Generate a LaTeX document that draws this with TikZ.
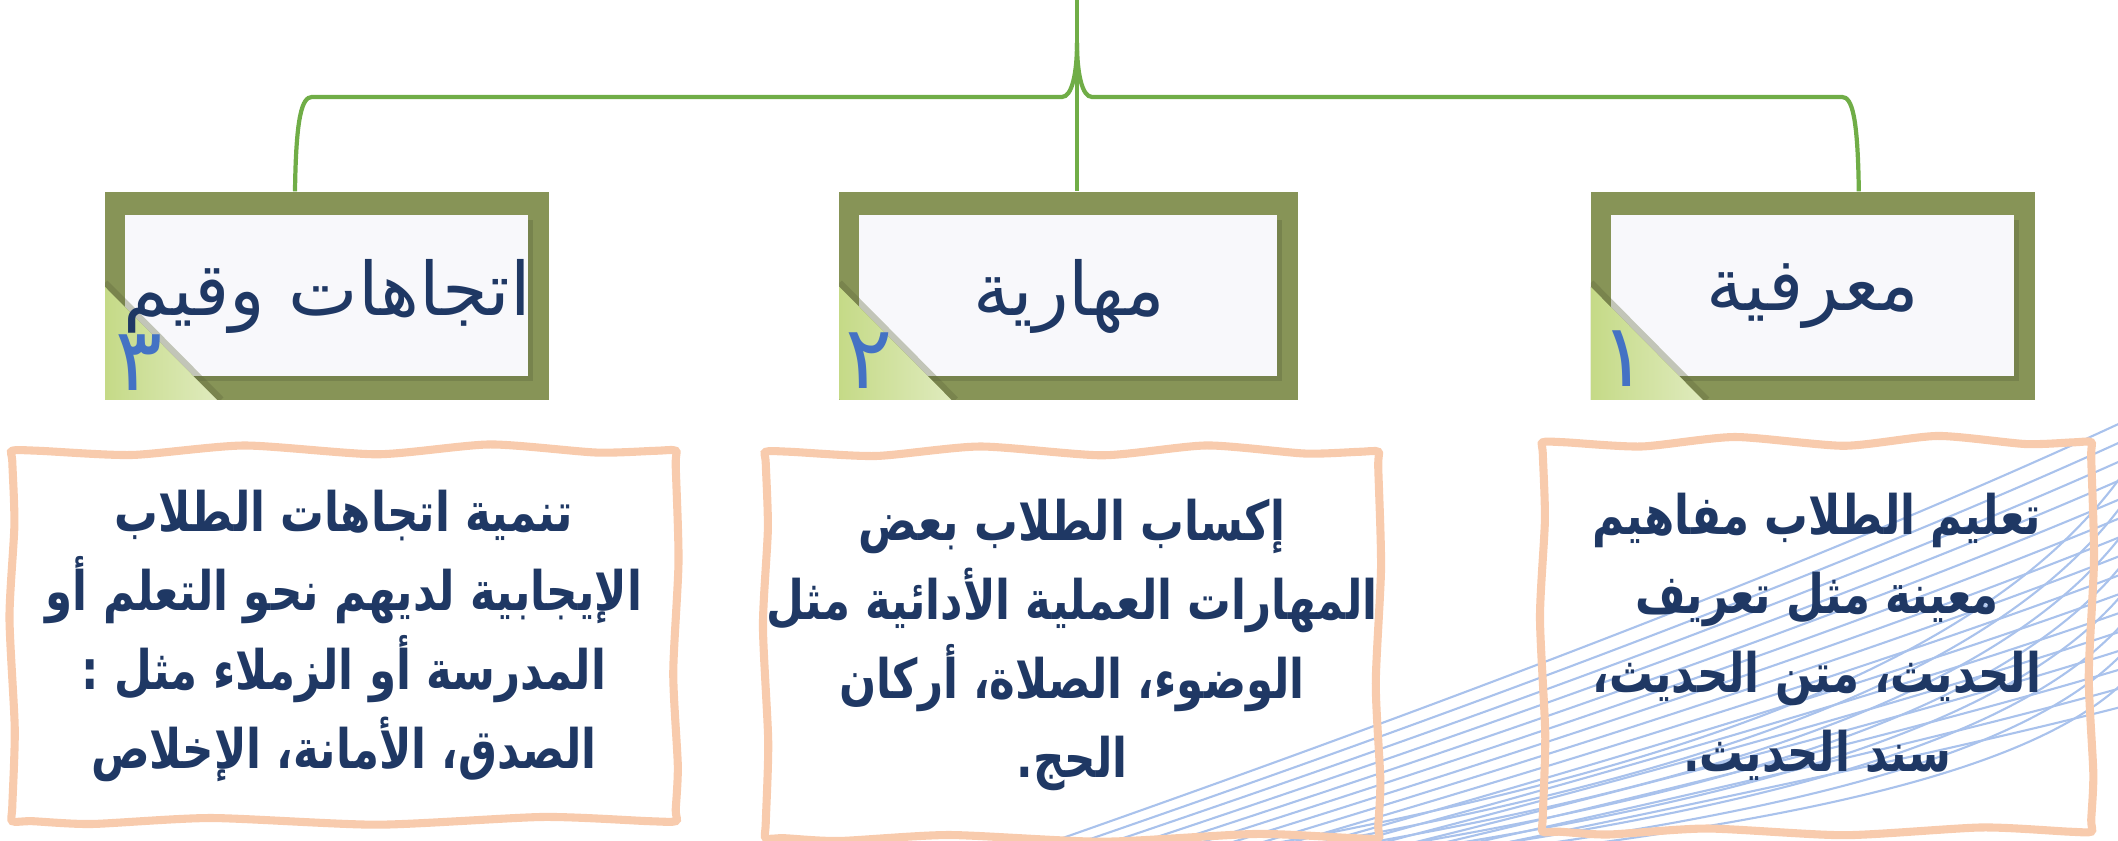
\documentclass[tikz,border=0pt]{standalone}
\usepackage{fontspec}
\usepackage{xcolor}
\usetikzlibrary{positioning}
\usetikzlibrary{calc}
\TeXXeTstate=1
\newfontfamily\arabicfont[Script=Arabic]{DejaVu Sans}
\newfontfamily\descfont[Script=Arabic, FakeStretch=0.8]{DejaVu Sans}
\definecolor{boxolive}{HTML}{879457}
\definecolor{innerwhite}{HTML}{F8F8FB}
\definecolor{leaf}{HTML}{C5DA87}
\definecolor{linkgreen}{HTML}{70AD47}
\definecolor{navy}{HTML}{1F3864}
\definecolor{numblue}{HTML}{4472C4}
\definecolor{peach}{HTML}{F8CBAD}
\definecolor{waveblue}{HTML}{A9C2EC}
\tikzset{branch/.style = {draw=linkgreen, line width=1.2pt}}

\begin{document}
\begin{tikzpicture}[node distance=2.9cm,
    head node/.style={minimum width=4.44cm, minimum height=2.08cm, inner sep=0pt, fill=boxolive, text=navy,
      font=\arabicfont\fontsize{21}{24}\selectfont,
      path picture={
        \fill[boxolive!75!black, opacity=.45] ([xshift=2.6mm,yshift=1.9mm]path picture bounding box.south west) rectangle ([xshift=-1.6mm,yshift=-2.8mm]path picture bounding box.north east);
        \fill[innerwhite] ([xshift=2mm,yshift=2.4mm]path picture bounding box.south west) rectangle ([xshift=-2.1mm,yshift=-2.3mm]path picture bounding box.north east);
        \draw[boxolive!70!black, opacity=.35, line width=2pt] ([xshift=1.16cm]path picture bounding box.south west) -- ++(-1.16,1.17);
        \fill[left color=leaf, right color=leaf!55!white] (path picture bounding box.south west) -- ++(1.12,0) -- ++(-1.12,1.13) -- cycle;
      }},
    num node/.style={text=numblue, inner sep=0pt, font=\arabicfont\fontsize{25}{28}\selectfont},
    desc node/.style={inner sep=0pt, align=center, text=navy, font=\descfont\bfseries\fontsize{15.5}{22.5}\selectfont},
    frame/.style={draw=peach, line width=2.3pt},
    wave/.style={draw=waveblue, line width=0.6pt}]
  \useasboundingbox (0,0) rectangle (21.18,8.41);

  % background lines
  \begin{scope}
    \clip (0,0) rectangle (21.18,8.41);
    \foreach \i [evaluate=\i as \s using 10.4+0.3*\i, evaluate=\i as \e using 4.2-0.19*\i] in {0,...,15}
      \draw[wave] (\s,-0.05) .. controls ({\s+0.4*(21.25-\s)},{0.35*\e}) and ({\s+0.75*(21.25-\s)},{0.7*\e}) .. (21.25,\e);
    \foreach \i [evaluate=\i as \s using 12.6+0.45*\i, evaluate=\i as \e using 3.7-0.3*\i] in {0,...,7}
      \draw[wave] (\s,-0.05) .. controls ({\s+0.5*(21.25-\s)},{0.2*\e}) and ({\s+0.85*(21.25-\s)},{0.5*\e}) .. (21.25,\e);
  \end{scope}

  \node[head node] (3) at (3.27,5.45) {\beginR اتجاهات وقيم\endR};
  \node[head node, minimum width=4.59cm] (2) [right=2.89cm of 3] {\beginR مهارية\endR};
  \node[head node] (1) [right=2.91cm of 2] {\beginR معرفية\endR};

  \node[num node] (1n) at ([xshift=3.4mm,yshift=4.2mm]1.south west) {١};
  \node[num node] (2n) at ([xshift=3.0mm,yshift=4.0mm]2.south west) {٢};
  \node[num node] (3n) at ([xshift=3.5mm,yshift=3.8mm]3.south west) {٣};

  \coordinate (top) at (10.77,8.41);
  \draw[branch] (top) -- (top |- 2.north);
  \draw[branch] ([xshift=-3.2mm]3.north) .. controls +(0.01,0.75) and +(-0.1,0) .. (3.12,7.44) -- (10.62,7.44) .. controls +(0.1,0) and +(0,-0.3) .. (10.77,7.98);
  \draw[branch] ([xshift=4.6mm]1.north) .. controls +(-0.01,0.75) and +(0.1,0) .. (18.42,7.44) -- (10.92,7.44) .. controls +(-0.1,0) and +(0,-0.3) .. (10.77,7.98);

  \node[desc node, minimum width=6.62cm, minimum height=3.69cm] (3a) at (3.44,2.05)
    {\beginR تنمية اتجاهات الطلاب\endR\\\beginR الإيجابية لديهم نحو التعلم أو\endR\\\beginR المدرسة أو الزملاء مثل :\endR\\\beginR الصدق، الأمانة، الإخلاص\endR};
  \node[desc node, minimum width=5.83cm, minimum height=3.85cm] (2a) at (10.72,1.96)
    {\beginR إكساب الطلاب بعض\endR\\\beginR المهارات العملية الأدائية مثل\endR\\\beginR الوضوء، الصلاة، أركان\endR\\\beginR الحج.\endR};
  \node[desc node, minimum width=5.47cm, minimum height=3.88cm] (1a) at (18.17,2.04)
    {\beginR تعليم الطلاب مفاهيم\endR\\\beginR معينة مثل تعريف\endR\\\beginR الحديث، متن الحديث،\endR\\\beginR سند الحديث.\endR};

  % hand drawn frames
  \foreach \n in {1a,2a,3a}
    \draw[frame] plot[smooth cycle, tension=0.4] coordinates {
      (\n.north west)
      ($(\n.north west)!.04!(\n.north east)$)
      ($(\n.north west)!.18!(\n.north east)+(0,-1.2pt)$)
      ($(\n.north west)!.35!(\n.north east)+(0,1.5pt)$)
      ($(\n.north west)!.55!(\n.north east)+(0,-1pt)$)
      ($(\n.north west)!.72!(\n.north east)+(0,1.8pt)$)
      ($(\n.north west)!.88!(\n.north east)+(0,-.5pt)$)
      ($(\n.north west)!.97!(\n.north east)$)
      (\n.north east)
      ($(\n.north east)!.04!(\n.south east)$)
      ($(\n.north east)!.3!(\n.south east)+(.8pt,0)$)
      ($(\n.north east)!.6!(\n.south east)+(-.7pt,0)$)
      ($(\n.north east)!.85!(\n.south east)+(.6pt,0)$)
      ($(\n.north east)!.97!(\n.south east)$)
      (\n.south east)
      ($(\n.south east)!.04!(\n.south west)$)
      ($(\n.south east)!.2!(\n.south west)+(0,1.2pt)$)
      ($(\n.south east)!.45!(\n.south west)+(0,-1pt)$)
      ($(\n.south east)!.7!(\n.south west)+(0,.9pt)$)
      ($(\n.south east)!.88!(\n.south west)+(0,-.8pt)$)
      ($(\n.south east)!.97!(\n.south west)$)
      (\n.south west)
      ($(\n.south west)!.04!(\n.north west)$)
      ($(\n.south west)!.25!(\n.north west)+(.7pt,0)$)
      ($(\n.south west)!.55!(\n.north west)+(-.8pt,0)$)
      ($(\n.south west)!.8!(\n.north west)+(.6pt,0)$)
      ($(\n.south west)!.97!(\n.north west)$)
    };
\end{tikzpicture}
\end{document}
